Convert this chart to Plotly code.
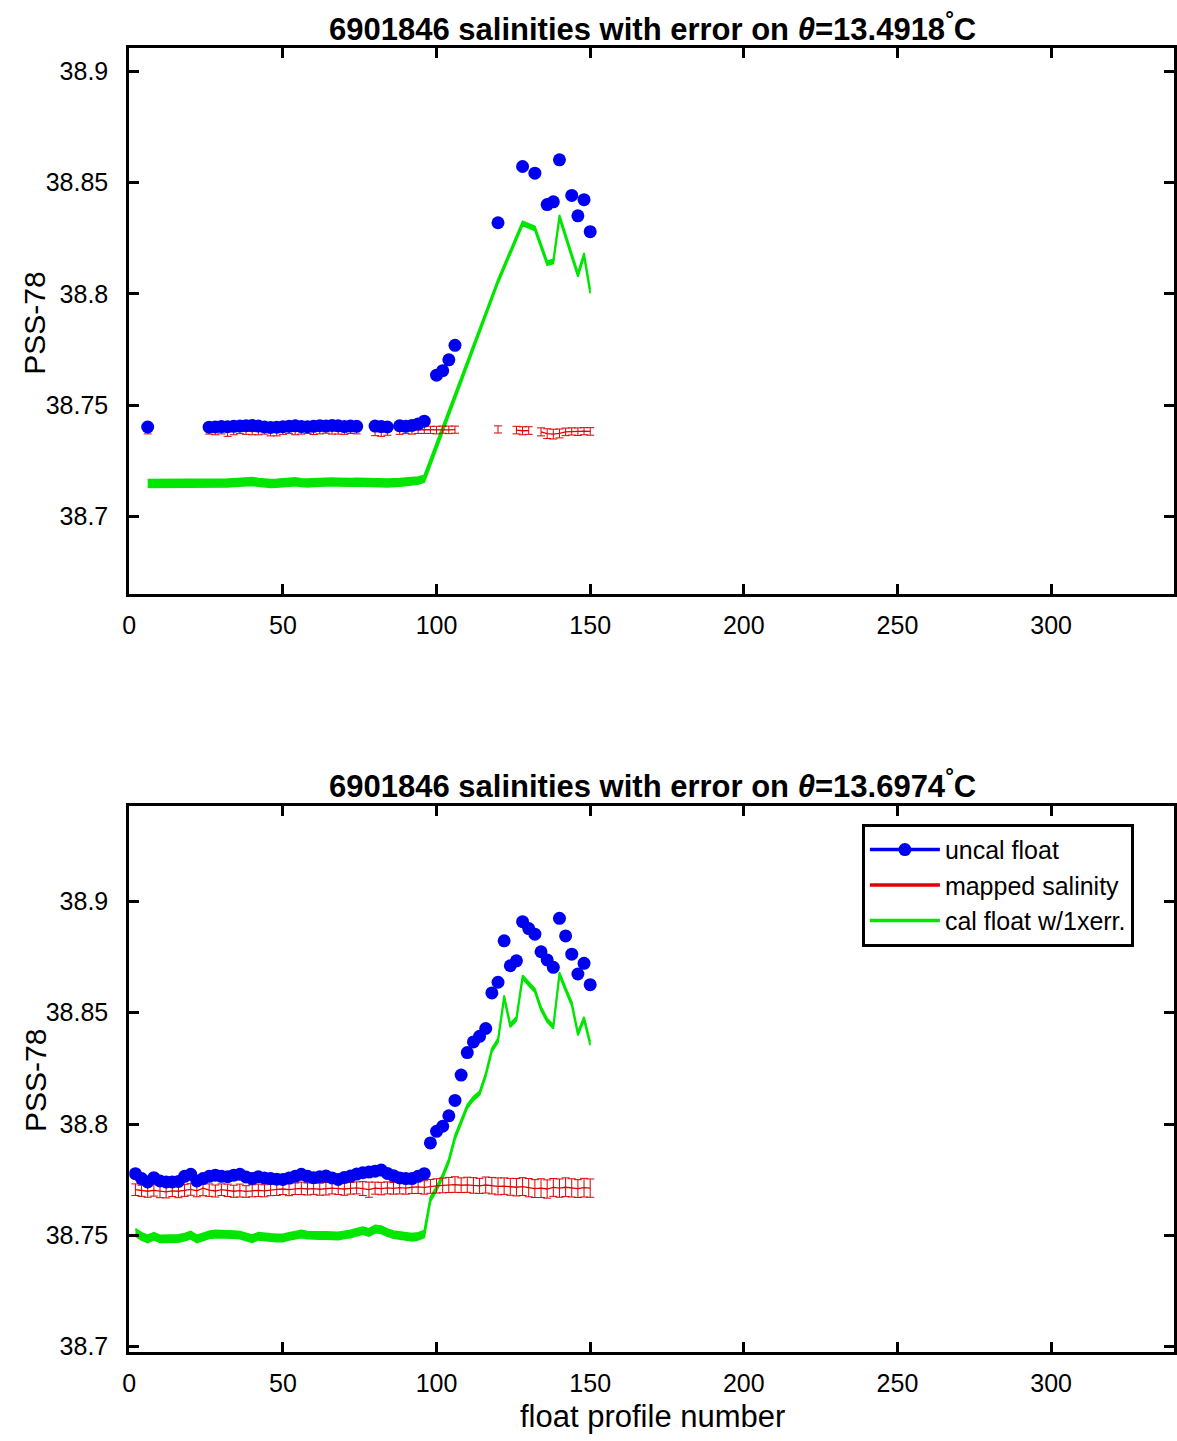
import plotly.graph_objects as go

# ---------------- data: top panel (theta = 13.4918) ----------------
top_uncal_x = [6,
               26, 28, 30, 32, 34, 36, 38, 40, 42, 44, 46, 48, 50, 52, 54, 56, 58, 60, 62, 64, 66, 68, 70, 72, 74,
               80, 82, 84, 88, 90, 92, 94, 96,
               100, 102, 104, 106,
               120, 128, 132, 136, 138, 140, 144, 146, 148, 150]
top_uncal_y = [38.7402,
               38.7401, 38.7402, 38.7404, 38.7403, 38.7405, 38.7406, 38.7408, 38.7409, 38.7406, 38.7402,
               38.7400, 38.7401, 38.7403, 38.7405, 38.7407, 38.7404, 38.7403, 38.7405, 38.7408, 38.7406,
               38.7409, 38.7407, 38.7404, 38.7406, 38.7405,
               38.7406, 38.7404, 38.7402, 38.7407, 38.7405, 38.7409, 38.7415, 38.7428,
               38.7635, 38.7655, 38.7704, 38.7769,
               38.8320, 38.8573, 38.8543, 38.8402, 38.8414, 38.8603, 38.8443, 38.8351, 38.8424, 38.8280]

top_red_x = [2, 4, 6, 8, 10, 12, 14, 16, 18, 20, 22, 24, 26, 28, 30, 32, 34, 36, 38, 40, 42, 44, 46, 48, 50,
             52, 54, 56, 58, 60, 62, 64, 66, 68, 70, 72, 74, 76, 78, 80, 82, 84, 86, 88, 90, 92, 94, 96, 98, 100,
             102, 104, 106, 108, 110, 112, 114, 116, 118, 120, 122, 124, 126, 128, 130, 132, 134, 136, 138, 140,
             142, 144, 146, 148, 150]
top_red_y = [None, None, 38.7385, None, None, None, None, None, None, None, None, None,
             38.7384, 38.7382, 38.7385, 38.7380, 38.7383, 38.7386, 38.7384, 38.7381, 38.7383, 38.7385,
             38.7382, 38.7380, 38.7384, 38.7386, 38.7383, 38.7385, 38.7387, 38.7384, 38.7386, 38.7388,
             38.7385, 38.7386, 38.7384, 38.7387, 38.7386,
             None, None, 38.7382, 38.7380, 38.7383, None,
             38.7386, 38.7388, 38.7387, 38.7389, 38.7390, 38.7389, 38.7388, 38.7390, 38.7389, 38.7390,
             None, None, None, None, None, None, 38.7391, None, None,
             38.7388, 38.7385, 38.7386, None,
             38.7380, 38.7372, 38.7370, 38.7373, 38.7380, 38.7382, 38.7381, 38.7383, 38.7382]
top_red_err = [None, None, 0.0014, None, None, None, None, None, None, None, None, None,
               0.0014, 0.0015, 0.0014, 0.0020, 0.0016, 0.0014, 0.0015, 0.0014, 0.0016, 0.0015,
               0.0020, 0.0018, 0.0015, 0.0014, 0.0016, 0.0015, 0.0014, 0.0016, 0.0015, 0.0014,
               0.0015, 0.0016, 0.0015, 0.0014, 0.0015,
               None, None, 0.0019, 0.0020, 0.0018, None,
               0.0017, 0.0016, 0.0017, 0.0016, 0.0017, 0.0016, 0.0017, 0.0016, 0.0017, 0.0016,
               None, None, None, None, None, None, 0.0016, None, None,
               0.0017, 0.0018, 0.0017, None,
               0.0018, 0.0022, 0.0022, 0.0020, 0.0017, 0.0016, 0.0017, 0.0016, 0.0017]

top_cal_x = [6,
             26, 28, 30, 32, 34, 36, 38, 40, 42, 44, 46, 48, 50, 52, 54, 56, 58, 60, 62, 64, 66, 68, 70, 72, 74,
             80, 82, 84, 88, 90, 92, 94, 96,
             120, 128, 132, 136, 138, 140, 144, 146, 148, 150]
top_cal_y = [38.7148,
             38.7148, 38.7147, 38.7149, 38.7150, 38.7152, 38.7154, 38.7156, 38.7157, 38.7153, 38.7150,
             38.7148, 38.7149, 38.7151, 38.7154, 38.7156, 38.7152, 38.7150, 38.7152, 38.7154, 38.7153,
             38.7155, 38.7154, 38.7152, 38.7153, 38.7154,
             38.7150, 38.7149, 38.7150, 38.7153, 38.7155, 38.7157, 38.7161, 38.7170,
             38.8057, 38.8317, 38.8295, 38.8138, 38.8146, 38.8347, 38.8172, 38.8086, 38.8175, 38.8012]
top_cal_err = [0.0017,
               0.0017, 0.0017, 0.0017, 0.0017, 0.0017, 0.0017, 0.0017, 0.0017, 0.0017, 0.0017,
               0.0017, 0.0017, 0.0017, 0.0017, 0.0017, 0.0017, 0.0017, 0.0017, 0.0017, 0.0017,
               0.0017, 0.0017, 0.0017, 0.0017, 0.0017,
               0.0017, 0.0017, 0.0017, 0.0017, 0.0017, 0.0017, 0.0016, 0.0015,
               0.0009, 0.0009, 0.0009, 0.0009, 0.0009, 0.0009, 0.0009, 0.0009, 0.0009, 0.0009]

# ---------------- data: bottom panel (theta = 13.6974) ----------------
bot_x = [2, 4, 6, 8, 10, 12, 14, 16, 18, 20, 22, 24, 26, 28, 30, 32, 34, 36, 38, 40, 42, 44, 46, 48, 50,
         52, 54, 56, 58, 60, 62, 64, 66, 68, 70, 72, 74, 76, 78, 80, 82, 84, 86, 88, 90, 92, 94, 96, 98, 100,
         102, 104, 106, 108, 110, 112, 114, 116, 118, 120, 122, 124, 126, 128, 130, 132, 134, 136, 138, 140,
         142, 144, 146, 148, 150]
bot_uncal_y = [38.7777, 38.7755, 38.7740, 38.7759, 38.7744, 38.7740, 38.7740, 38.7742, 38.7765, 38.7774,
               38.7744, 38.7755, 38.7765, 38.7770, 38.7765, 38.7763, 38.7770, 38.7774, 38.7762, 38.7755,
               38.7763, 38.7758, 38.7755, 38.7752, 38.7751, 38.7757, 38.7765, 38.7774, 38.7765, 38.7759,
               38.7763, 38.7766, 38.7758, 38.7751, 38.7760, 38.7766, 38.7775, 38.7781, 38.7784, 38.7788,
               38.7793, 38.7778, 38.7768, 38.7758, 38.7755, 38.7755, 38.7765, 38.7777, 38.7915, 38.7967,
               38.7990, 38.8037, 38.8106, 38.8220, 38.8321, 38.8369, 38.8394, 38.8429, 38.8589, 38.8637,
               38.8823, 38.8711, 38.8733, 38.8909, 38.8878, 38.8853, 38.8774, 38.8737, 38.8704, 38.8924,
               38.8845, 38.8763, 38.8674, 38.8722, 38.8626]
bot_red_y = [38.7705, 38.7700, 38.7698, 38.7702, 38.7697, 38.7695, 38.7700, 38.7698, 38.7702, 38.7706,
             38.7700, 38.7712, 38.7703, 38.7699, 38.7705, 38.7702, 38.7698, 38.7701, 38.7697, 38.7700,
             38.7702, 38.7700, 38.7704, 38.7706, 38.7708, 38.7705, 38.7709, 38.7711, 38.7708, 38.7710,
             38.7707, 38.7709, 38.7712, 38.7710, 38.7708, 38.7711, 38.7713, 38.7710, 38.7705, 38.7712,
             38.7710, 38.7713, 38.7711, 38.7714, 38.7712, 38.7716, 38.7718, 38.7715, 38.7720, 38.7722,
             38.7724, 38.7726, 38.7728, 38.7725, 38.7727, 38.7724, 38.7722, 38.7726, 38.7723, 38.7720,
             38.7721, 38.7718, 38.7716, 38.7719, 38.7714, 38.7710, 38.7712, 38.7708, 38.7715, 38.7712,
             38.7716, 38.7713, 38.7710, 38.7714, 38.7712]
bot_red_err = [0.0026, 0.0025, 0.0027, 0.0026, 0.0028, 0.0027, 0.0026, 0.0029, 0.0027, 0.0026,
               0.0027, 0.0034, 0.0028, 0.0027, 0.0026, 0.0028, 0.0027, 0.0029, 0.0026, 0.0027,
               0.0028, 0.0027, 0.0026, 0.0027, 0.0025, 0.0027, 0.0026, 0.0028, 0.0027, 0.0026,
               0.0027, 0.0028, 0.0026, 0.0027, 0.0028, 0.0026, 0.0027, 0.0031, 0.0034, 0.0027,
               0.0028, 0.0027, 0.0026, 0.0028, 0.0027, 0.0028, 0.0030, 0.0030, 0.0031, 0.0032,
               0.0033, 0.0034, 0.0035, 0.0033, 0.0034, 0.0035, 0.0034, 0.0036, 0.0037, 0.0038,
               0.0037, 0.0038, 0.0039, 0.0040, 0.0041, 0.0040, 0.0042, 0.0041, 0.0040, 0.0041,
               0.0042, 0.0041, 0.0040, 0.0042, 0.0041]
bot_cal_y = [38.7513, 38.7495, 38.7484, 38.7496, 38.7484, 38.7484, 38.7484, 38.7486, 38.7492, 38.7501,
             38.7484, 38.7494, 38.7502, 38.7506, 38.7506, 38.7505, 38.7503, 38.7501, 38.7492, 38.7485,
             38.7496, 38.7492, 38.7490, 38.7488, 38.7488, 38.7495, 38.7502, 38.7506, 38.7501, 38.7499,
             38.7499, 38.7499, 38.7497, 38.7497, 38.7502, 38.7506, 38.7514, 38.7521, 38.7513, 38.7528,
             38.7525, 38.7512, 38.7503, 38.7498, 38.7494, 38.7491, 38.7495, 38.7506, 38.7662, 38.7710,
             38.7766, 38.7835, 38.7940, 38.8010, 38.8079, 38.8115, 38.8138, 38.8220, 38.8332, 38.8376,
             38.8570, 38.8443, 38.8473, 38.8660, 38.8628, 38.8600, 38.8518, 38.8466, 38.8436, 38.8674,
             38.8605, 38.8540, 38.8406, 38.8473, 38.8362]
bot_cal_err = [0.0016, 0.0016, 0.0016, 0.0016, 0.0016, 0.0016, 0.0016, 0.0016, 0.0016, 0.0016,
               0.0016, 0.0016, 0.0016, 0.0016, 0.0016, 0.0016, 0.0016, 0.0016, 0.0016, 0.0016,
               0.0016, 0.0016, 0.0016, 0.0016, 0.0016, 0.0016, 0.0016, 0.0016, 0.0016, 0.0016,
               0.0016, 0.0016, 0.0016, 0.0016, 0.0016, 0.0016, 0.0016, 0.0016, 0.0016, 0.0016,
               0.0016, 0.0016, 0.0016, 0.0016, 0.0016, 0.0016, 0.0016, 0.0015, 0.0010, 0.0009,
               0.0009, 0.0009, 0.0009, 0.0008, 0.0008, 0.0008, 0.0008, 0.0008, 0.0008, 0.0008,
               0.0008, 0.0008, 0.0008, 0.0008, 0.0008, 0.0008, 0.0008, 0.0008, 0.0008, 0.0008,
               0.0008, 0.0008, 0.0008, 0.0008, 0.0008]

titles = ["6901846 salinities with error on <i>θ</i>=13.4918<sup>°</sup>C",
          "6901846 salinities with error on <i>θ</i>=13.6974<sup>°</sup>C"]
x_ticks = [0, 50, 100, 150, 200, 250, 300]
top_y_ticks = [38.7, 38.75, 38.8, 38.85, 38.9]
top_y_text = ["38.7", "38.75", "38.8", "38.85", "38.9"]
bot_y_ticks = [38.7, 38.75, 38.8, 38.85, 38.9]
bot_y_text = ["38.7", "38.75", "38.8", "38.85", "38.9"]
legend_names = ["uncal float", "mapped salinity", "cal float w/1xerr."]

BLUE = "#0000f0"
RED = "#e00000"
GREEN = "#00e600"
FONT = "Arial, Liberation Sans, sans-serif"

fig = go.Figure()


def add_panel(xa, ya, cal_x, cal_y, cal_err, red_x, red_y, red_err, unc_x, unc_y):
    lo = [c - e for c, e in zip(cal_y, cal_err)]
    hi = [c + e for c, e in zip(cal_y, cal_err)]
    fig.add_trace(go.Scatter(x=cal_x, y=lo, mode="lines", line=dict(color=GREEN, width=1.8),
                             xaxis=xa, yaxis=ya, showlegend=False, hoverinfo="skip"))
    fig.add_trace(go.Scatter(x=cal_x, y=hi, mode="lines", line=dict(color=GREEN, width=1.8),
                             fill="tonexty", fillcolor=GREEN, xaxis=xa, yaxis=ya, showlegend=False))
    fig.add_trace(go.Scatter(x=red_x, y=red_y, mode="lines", line=dict(color=RED, width=1.3),
                             error_y=dict(type="data", array=red_err, visible=True, color=RED,
                                          thickness=1, width=4),
                             xaxis=xa, yaxis=ya, showlegend=False))
    fig.add_trace(go.Scatter(x=unc_x, y=unc_y, mode="markers", marker=dict(color=BLUE, size=13),
                             xaxis=xa, yaxis=ya, showlegend=False))


add_panel("x", "y", top_cal_x, top_cal_y, top_cal_err, top_red_x, top_red_y, top_red_err,
          top_uncal_x, top_uncal_y)
add_panel("x2", "y2", bot_x, bot_cal_y, bot_cal_err, bot_x, bot_red_y, bot_red_err,
          bot_x, bot_uncal_y)

# legend entries (bottom panel legend)
fig.add_trace(go.Scatter(x=[None], y=[None], mode="lines+markers", line=dict(color=BLUE, width=3.5),
                         marker=dict(color=BLUE, size=13), xaxis="x2", yaxis="y2", name=legend_names[0]))
fig.add_trace(go.Scatter(x=[None], y=[None], mode="lines", line=dict(color=RED, width=3.5),
                         xaxis="x2", yaxis="y2", name=legend_names[1]))
fig.add_trace(go.Scatter(x=[None], y=[None], mode="lines", line=dict(color=GREEN, width=3.5),
                         xaxis="x2", yaxis="y2", name=legend_names[2]))

W, H = 1177, 1441


def px(x):
    return x / W


def py(y):
    return 1 - y / H


xdom = [px(123), px(1174)]
top_dom = [py(598), py(48)]
bot_dom = [py(1360), py(811)]

axis_common = dict(showline=True, linecolor="black", linewidth=3, mirror="ticks",
                   ticks="inside", ticklen=10, tickwidth=2.5, tickcolor="black",
                   showgrid=False, zeroline=False,
                   tickfont=dict(family=FONT, size=25, color="black"))

fig.update_layout(
    width=W, height=H,
    margin=dict(l=0, r=0, t=0, b=0),
    paper_bgcolor="white", plot_bgcolor="white",
    font=dict(family=FONT, color="black"),
    xaxis=dict(domain=xdom, anchor="y", range=[0, 340], tickvals=x_ticks,
               ticklabelstandoff=7, **axis_common),
    yaxis=dict(domain=top_dom, anchor="x", range=[38.665, 38.9107], tickvals=top_y_ticks,
               ticktext=top_y_text, ticklabelstandoff=13, **axis_common),
    xaxis2=dict(domain=xdom, anchor="y2", range=[0, 340], tickvals=x_ticks,
                ticklabelstandoff=7, **axis_common),
    yaxis2=dict(domain=bot_dom, anchor="x2", range=[38.6978, 38.9429], tickvals=bot_y_ticks,
                ticktext=bot_y_text, ticklabelstandoff=13, **axis_common),
    showlegend=True,
    legend=dict(x=px(860), y=py(829), xanchor="left", yanchor="top",
                bgcolor="white", bordercolor="black", borderwidth=3,
                font=dict(family=FONT, size=25, color="black"), traceorder="normal",
                itemwidth=70, tracegroupgap=0),
)

ann = []
for i, yc in enumerate([27, 789]):
    ann.append(dict(text="<b>" + titles[i] + "</b>", x=px(649), y=py(yc), xref="paper", yref="paper",
                    showarrow=False, xanchor="center", yanchor="middle",
                    font=dict(family=FONT, size=31, color="black")))
for yc in [325, 1087]:
    ann.append(dict(text="PSS-78", x=px(28), y=py(yc), xref="paper", yref="paper", textangle=-90,
                    showarrow=False, xanchor="center", yanchor="middle",
                    font=dict(family=FONT, size=30, color="black")))
ann.append(dict(text="float profile number", x=px(649), y=py(1425), xref="paper", yref="paper",
                showarrow=False, xanchor="center", yanchor="middle",
                font=dict(family=FONT, size=31, color="black")))
fig.update_layout(annotations=ann)

# remove the default page margin so the figure sits at the window origin
fig.write_html("out.html", config={"displayModeBar": False},
               post_script="document.body.style.margin='0px';document.body.style.overflow='hidden';")
